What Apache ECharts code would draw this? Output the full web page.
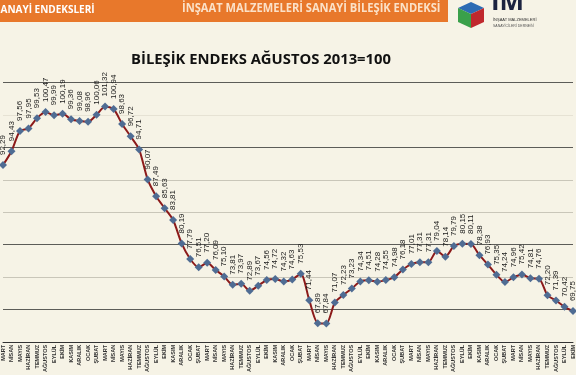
<!DOCTYPE html>
<html><head><meta charset="utf-8">
<script src="https://cdn.jsdelivr.net/npm/echarts@6/dist/echarts.min.js"></script>
<style>html,body{margin:0;padding:0;background:#f6f3e6;}#c{width:576px;height:375px;}</style>
</head><body><div id="c"></div>
<script>
const categories = [
 'MART','NİSAN','MAYIS','HAZİRAN','TEMMUZ','AĞUSTOS','EYLÜL','EKİM','KASIM','ARALIK',
 'OCAK','ŞUBAT','MART','NİSAN','MAYIS','HAZİRAN','TEMMUZ','AĞUSTOS','EYLÜL','EKİM','KASIM','ARALIK',
 'OCAK','ŞUBAT','MART','NİSAN','MAYIS','HAZİRAN','TEMMUZ','AĞUSTOS','EYLÜL','EKİM','KASIM','ARALIK',
 'OCAK','ŞUBAT','MART','NİSAN','MAYIS','HAZİRAN','TEMMUZ','AĞUSTOS','EYLÜL','EKİM','KASIM','ARALIK',
 'OCAK','ŞUBAT','MART','NİSAN','MAYIS','HAZİRAN','TEMMUZ','AĞUSTOS','EYLÜL','EKİM','KASIM','ARALIK',
 'OCAK','ŞUBAT','MART','NİSAN','MAYIS','HAZİRAN','TEMMUZ','AĞUSTOS','EYLÜL','EKİM'
];
const values = [
 92.29, 94.43, 97.56, 97.95, 99.53, 100.47, 99.99, 100.19, 99.36, 99.08,
 98.96, 100.06, 101.32, 100.94, 98.63, 96.72, 94.71, 90.07, 87.49, 85.63, 83.81, 80.19,
 77.79, 76.51, 77.20, 76.09, 75.10, 73.81, 73.97, 72.89, 73.67, 74.56, 74.72, 74.32,
 74.63, 75.53, 71.44, 67.89, 67.84, 71.07, 72.23, 73.23, 74.34, 74.51, 74.28, 74.55,
 74.98, 76.18, 77.01, 77.31, 77.31, 79.04, 78.14, 79.79, 80.15, 80.11, 78.38, 76.93,
 75.35, 74.24, 74.96, 75.42, 74.81, 74.76, 72.20, 71.39, 70.42, 69.75
];
const yTicks = { min: 65, max: 105, interval: 5 };
const titleText = 'BİLEŞİK ENDEKS AĞUSTOS 2013=100';
const headerLeft = 'SANAYİ ENDEKSLERİ';
const headerRight = 'İNŞAAT MALZEMELERİ SANAYİ BİLEŞİK ENDEKSİ';

const dark = '#5c5c58', light = '#c9c6b9', faint = '#e6e2d4';
const chart = echarts.init(document.getElementById('c'), null, {renderer:'canvas'});
chart.setOption({
  backgroundColor: '#f6f3e6',
  animation: false,
  title: {
    text: titleText, left: 256, top: 47, textAlign: 'center',
    textStyle: { fontFamily: 'Open Sans', fontWeight: 'bold', fontSize: 14.8, color: '#111' }
  },
  grid: { left: 0, right: -1.9, top: 82.7, bottom: 24.7, containLabel: false },
  xAxis: {
    type: 'category', data: categories, boundaryGap: false,
    axisLine: { lineStyle: { color: '#333', width: 1 } },
    axisTick: { show: false },
    axisLabel: { interval: 0, rotate: 90, fontSize: 5.5, fontFamily: 'Liberation Sans', fontWeight: 'bold', color: '#333', margin: 3 }
  },
  yAxis: {
    type: 'value', min: yTicks.min, max: yTicks.max, interval: yTicks.interval,
    axisLabel: { show: false }, axisLine: { show: false }, axisTick: { show: false },
    splitLine: { lineStyle: { color: [dark, dark, light, dark, light, light, dark, faint, dark], width: 1 } }
  },
  series: [{
    type: 'line', data: values, smooth: 0.25,
    lineStyle: { color: '#8c1a1a', width: 2 },
    symbol: 'diamond', symbolSize: 8,
    itemStyle: { color: '#4f6c93' },
    label: {
      show: true, position: 'top', rotate: 90, distance: 6,
      align: 'left', verticalAlign: 'middle',
      fontSize: 8, fontFamily: 'Liberation Sans', color: '#1a1a1a',
      formatter: p => p.value.toFixed(2).replace('.', ',')
    }
  }],
  graphic: [
    { type: 'rect', shape: { x: 0, y: 0, width: 448, height: 22 }, style: { fill: '#e8782b' } },
    { type: 'text', left: -5, top: 5, style: { text: headerLeft, fill: '#ffffff', font: 'bold 10px "Open Sans"' } },
    { type: 'text', x: 182, y: 2, scaleX: 0.89, style: { text: headerRight, fill: '#fbe1c8', font: 'bold 12.5px "Open Sans"' } },
    { type: 'polygon', shape: { points: [[458,8],[471,2],[484,8],[471,14]] }, style: { fill: '#2d6cb4' } },
    { type: 'polygon', shape: { points: [[471,14],[484,8],[484,22],[471,28]] }, style: { fill: '#c0282d' } },
    { type: 'polygon', shape: { points: [[458,8],[471,14],[471,28],[458,22]] }, style: { fill: '#3aa04a' } },
    { type: 'text', left: 491, top: -10, style: { text: 'İM', fill: '#1c2340', font: 'bold 26px "Open Sans"' } },
    { type: 'text', left: 493, top: 18, style: { text: 'İNŞAAT MALZEMELERİ', fill: '#333', font: '4px "Liberation Sans"' } },
    { type: 'text', left: 493, top: 24, style: { text: 'SANAYİCİLERİ DERNEĞİ', fill: '#555', font: '3.5px "Liberation Sans"' } }
  ]
});
</script></body></html>
